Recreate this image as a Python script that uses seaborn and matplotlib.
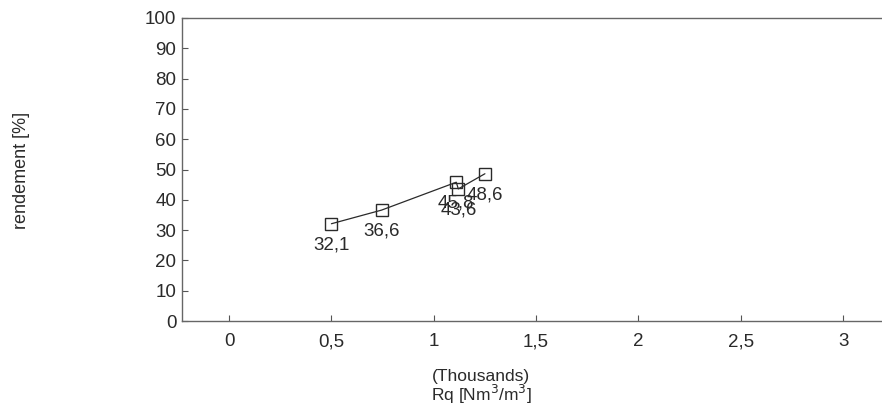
import matplotlib
matplotlib.use("Agg")
import matplotlib.pyplot as plt
import seaborn as sns
import pandas as pd

# Flow ratio (in thousands of Nm3/m3) and measured efficiency
rq_thousands = [0.50, 0.745, 1.11, 1.12, 1.25]
rendement = [32.1, 36.6, 45.8, 43.6, 48.6]
value_labels = ["32,1", "36,6", "45,8", "43,6", "48,6"]

x_ticks = [0, 0.5, 1, 1.5, 2, 2.5, 3]
x_tick_labels = ["0", "0,5", "1", "1,5", "2", "2,5", "3"]
y_ticks = [0, 10, 20, 30, 40, 50, 60, 70, 80, 90, 100]

sns.set_style("white")
plt.rcParams["font.family"] = ["Liberation Sans", "DejaVu Sans"]

ink = "#2a2a2a"
df = pd.DataFrame({"rq": rq_thousands, "rendement": rendement})

fig = plt.figure(figsize=(8.82, 4.05), dpi=100)
ax = fig.add_axes([182 / 882, 84 / 405, 1 - 182 / 882, (321 - 18) / 405])

sns.lineplot(data=df, x="rq", y="rendement", sort=False, ax=ax,
             color=ink, linewidth=0.9, marker="s", markersize=8,
             markerfacecolor="none", markeredgecolor=ink, markeredgewidth=1.0)

for x, y, txt in zip(rq_thousands, rendement, value_labels):
    ax.annotate(txt, (x, y), xytext=(0, -15), textcoords="offset points",
                ha="center", va="center", fontsize=13.5, color=ink)

ax.set_xlim(-0.23, 3.19)
ax.set_ylim(0, 100)
ax.set_xticks(x_ticks)
ax.set_xticklabels(x_tick_labels)
ax.set_yticks(y_ticks)
ax.tick_params(axis="both", direction="in", length=4, width=0.8,
               colors="#555555", labelcolor=ink, labelsize=13.5,
               left=True, bottom=True)
ax.tick_params(axis="x", pad=9)
ax.tick_params(axis="y", pad=4)

for side in ["left", "bottom", "top"]:
    ax.spines[side].set_color("#666666")
    ax.spines[side].set_linewidth(1.0)
ax.spines["right"].set_visible(False)

ax.set_xlabel("")
ax.set_ylabel("")
fig.text(481 / 882, 1 - 377 / 405, "(Thousands)", ha="center", va="center",
         fontsize=12.5, color=ink)
fig.text(481 / 882, 1 - 394 / 405, "Rq [Nm$^3$/m$^3$]", ha="center", va="center",
         fontsize=12.5, color=ink)
fig.text(22 / 882, 1 - 170 / 405, "rendement [%]", rotation=90,
         ha="center", va="center", fontsize=13, color=ink)

fig.savefig("out.png", dpi=100, facecolor="white")
